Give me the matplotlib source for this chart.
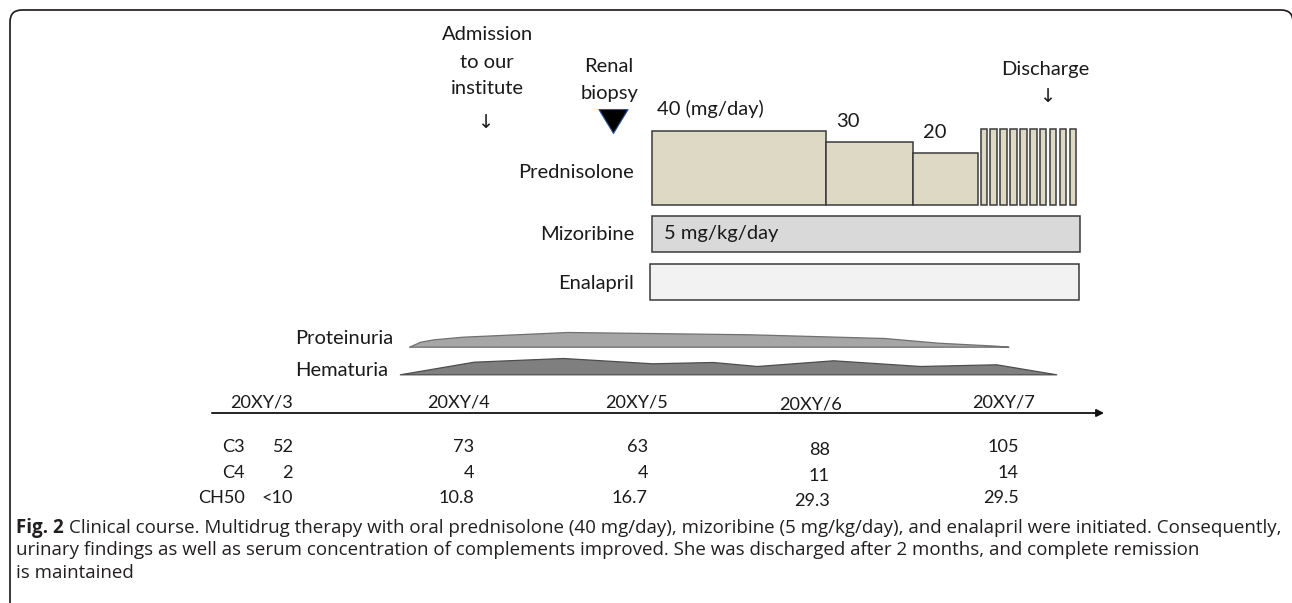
import matplotlib
matplotlib.use("Agg")
import matplotlib.pyplot as plt
from matplotlib.patches import FancyBboxPatch
from matplotlib.path import Path

# ---------------- data ----------------
admission_week = -3.83          # weeks relative to start of therapy
biopsy_week = -0.90
discharge_week = 9.09

pred_doses = [40, 30, 20]        # mg/day
pred_weeks = [4.0, 2.0, 1.5]     # duration of each step
pred_labels = ["40 (mg/day)", "30", "20"]
taper_start_week = 7.56
taper_bar_count = 10

drug_names = ["Mizoribine", "Enalapril"]
drug_start_weeks = [0.0, -0.04]
drug_end_weeks = [9.85, 9.82]
mizoribine_note = "5 mg/kg/day"

prot_weeks = [-5.58, -5.32, -5.01, -4.35, -1.94, 2.27, 5.35, 6.58, 7.92, 8.2]
prot_level = [0.0, 5.0, 7.4, 10.0, 14.7, 12.4, 8.7, 4.0, 1.0, 0.0]
hema_weeks = [-5.79, -4.09, -2.04, 0.01, 1.40, 2.42, 4.17, 6.17, 7.92, 9.30]
hema_level = [0.0, 12.6, 16.3, 11.0, 12.3, 8.3, 14.0, 8.3, 10.0, 0.0]

timeline_start_week = -10.11
timeline_end_week = 10.40
month_labels = ["20XY/3", "20XY/4", "20XY/5", "20XY/6", "20XY/7"]
month_weeks = [-8.96, -4.45, -0.34, 3.66, 8.08]

lab_names = ["C3", "C4", "CH50"]
c3_values = ["52", "73", "63", "88", "105"]
c4_values = ["2", "4", "4", "11", "14"]
ch50_values = ["<10", "10.8", "16.7", "29.3", "29.5"]

caption_bold = "Fig. 2"
caption_lines = [
    "Clinical course. Multidrug therapy with oral prednisolone (40 mg/day), mizoribine (5 mg/kg/day), and enalapril were initiated. Consequently,",
    "urinary findings as well as serum concentration of complements improved. She was discharged after 2 months, and complete remission",
    "is maintained",
]

# ---------------- layout ----------------
W, H = 1292, 603
X0_PX, PX_PER_WEEK = 651.7, 43.5
XLIM = (-X0_PX / PX_PER_WEEK, (W - X0_PX) / PX_PER_WEEK)
CHART_FONT = ["Lato", "DejaVu Sans"]
CAP_FONT = ["Open Sans", "DejaVu Sans"]
TXT = "#1a1a1a"

fig = plt.figure(figsize=(W / 100, H / 100), dpi=100)
renderer = fig.canvas.get_renderer()


def frac_rect(y_top, y_bot):
    return [0, 1 - y_bot / H, 1, (y_bot - y_top) / H]


def width_px(s, family, size, weight="normal"):
    t = fig.text(0, 0, s, fontsize=size, family=family, weight=weight)
    w = t.get_window_extent(renderer).width
    t.remove()
    return w


fs = 10 * 116 / width_px("Prednisolone", CHART_FONT, 10)
nfs = fs * 0.9   # dates and complement table (narrower digits in the reference)
space10 = width_px("a a", CAP_FONT, 10) - width_px("aa", CAP_FONT, 10)
w10 = width_px(caption_bold, CAP_FONT, 10, "bold") + space10 + width_px(caption_lines[0], CAP_FONT, 10)
cfs = 10 * 1264 / w10

# pixel axes for frame, labels, caption
ax_px = fig.add_axes([0, 0, 1, 1])
ax_px.set_xlim(0, W)
ax_px.set_ylim(H, 0)
ax_px.axis("off")

# week axes (x in weeks, y in pixels)
ax_t = fig.add_axes([0, 0, 1, 1])
ax_t.set_xlim(*XLIM)
ax_t.set_ylim(H, 0)
ax_t.axis("off")

frame = FancyBboxPatch((10, 10), 1283, 640, boxstyle="round,pad=0,rounding_size=12",
                       fill=False, ec="#231f20", lw=1.25)
ax_px.add_patch(frame)

# annotations at the top
for s, y in zip(["Admission", "to our", "institute"], [35, 63, 89]):
    ax_t.text(admission_week + 0.05, y, s, ha="center", va="center", fontsize=fs, family=CHART_FONT, color=TXT)
ax_t.text(admission_week, 123, "\u2193", ha="center", va="center", fontsize=fs * 0.95,
          family=["DejaVu Sans"], color=TXT)
for s, y in zip(["Renal", "biopsy"], [66, 93]):
    ax_t.text(biopsy_week - 0.08, y, s, ha="center", va="center", fontsize=fs, family=CHART_FONT, color=TXT)
tri = Path([(-1, 0.82), (1, 0.82), (0, -0.82), (-1, 0.82)],
           [Path.MOVETO, Path.LINETO, Path.LINETO, Path.CLOSEPOLY])
ax_t.plot([biopsy_week], [121], marker=tri, markersize=21, color="black",
          markeredgecolor="#2f5597", markeredgewidth=0.8, linestyle="none")
ax_t.text(discharge_week - 0.05, 70, "Discharge", ha="center", va="center", fontsize=fs, family=CHART_FONT, color=TXT)
ax_t.text(discharge_week, 97, "\u2193", ha="center", va="center", fontsize=fs * 0.95,
          family=["DejaVu Sans"], color=TXT)

# prednisolone
ax_p = fig.add_axes(frac_rect(129.3, 205.3))
ax_p.set_xlim(*XLIM)
ylo, yhi = -27.3, 41.5
ax_p.set_ylim(ylo, yhi)
ax_p.axis("off")
starts = [sum(pred_weeks[:i]) for i in range(len(pred_weeks))]
bars = ax_p.bar(starts, [d - ylo for d in pred_doses], bottom=ylo, width=pred_weeks, align="edge",
                color="#ddd9c4", edgecolor="#3a3a3a", linewidth=1.1)
for b in bars:
    b.set_clip_on(False)
pitch = 9.9 / PX_PER_WEEK
tw = 6.5 / PX_PER_WEEK
tb = ax_p.bar([taper_start_week + i * pitch for i in range(taper_bar_count)], yhi - ylo, bottom=ylo,
              width=tw, align="edge", color="#ddd9c4", edgecolor="#3a3a3a", linewidth=1.1)
for b in tb:
    b.set_clip_on(False)
for s, x0, d, dx in zip(pred_labels, starts, pred_doses, [0.12, 0.25, 0.23]):
    ax_p.annotate(s, (x0 + dx, d), xytext=(0, 9), textcoords="offset points",
                  ha="left", va="bottom", fontsize=fs, family=CHART_FONT, color=TXT, annotation_clip=False)
ax_px.text(634, 173, "Prednisolone", ha="right", va="center", fontsize=fs, family=CHART_FONT, color=TXT)

# mizoribine / enalapril
ax_d = fig.add_axes(frac_rect(210, 306))
ax_d.set_xlim(*XLIM)
ax_d.set_ylim(1.5, -0.5)
ax_d.axis("off")
dbars = ax_d.barh(range(len(drug_names)), [e - s for s, e in zip(drug_start_weeks, drug_end_weeks)],
                  left=drug_start_weeks, height=0.75, color=["#d9d9d9", "#f2f2f2"],
                  edgecolor="#3a3a3a", linewidth=1.1)
for i, name in enumerate(drug_names):
    ax_px.text(634, [234, 283][i], name, ha="right", va="center", fontsize=fs, family=CHART_FONT, color=TXT)
ax_d.text(drug_start_weeks[0] + 0.28, 0, mizoribine_note, ha="left", va="center",
          fontsize=fs, family=CHART_FONT, color=TXT)

# urinary findings
prot_base, hema_base = 346.7, 374.3
ax_t.fill_between(prot_weeks, prot_base, [prot_base - v for v in prot_level],
                  facecolor="#a6a6a6", edgecolor="#707070", linewidth=0.9)
ax_t.fill_between(hema_weeks, hema_base, [hema_base - v for v in hema_level],
                  facecolor="#7f7f7f", edgecolor="#4d4d4d", linewidth=0.9)
ax_px.text(393, 338, "Proteinuria", ha="right", va="center", fontsize=fs, family=CHART_FONT, color=TXT)
ax_px.text(388, 370, "Hematuria", ha="right", va="center", fontsize=fs, family=CHART_FONT, color=TXT)

# time axis
ax_t.annotate("", xy=(timeline_end_week, 413), xytext=(timeline_start_week, 413),
              arrowprops=dict(arrowstyle="-|>", lw=1.3, color="#111111", mutation_scale=11,
                              shrinkA=0, shrinkB=0))
for lab, w, dy in zip(month_labels, month_weeks, [0, 0, 0, 2, 0]):
    ax_t.text(w, 403 + dy, lab, ha="center", va="center", fontsize=nfs, family=CHART_FONT, color=TXT)

# complement table
row_y = [447, 473, 498]
col_x = [293, 474, 648, 830, 1019]
col_dy = [0, 0, 0, 3, 0]
for name, vals, y in zip(lab_names, [c3_values, c4_values, ch50_values], row_y):
    ax_px.text(245, y, name, ha="right", va="center", fontsize=nfs, family=CHART_FONT, color=TXT)
    for v, x, dy in zip(vals, col_x, col_dy):
        ax_px.text(x, y + dy, v, ha="right", va="center", fontsize=nfs, family=CHART_FONT, color=TXT)

# caption
CAP = "#231f20"
tb_ = ax_px.text(16, 528, caption_bold, ha="left", va="center", fontsize=cfs, family=CAP_FONT,
                 weight="bold", color=CAP)
bb = tb_.get_window_extent(renderer)
x_rest = bb.x1 + space10 * cfs / 10
ax_px.text(x_rest, 528, caption_lines[0], ha="left", va="center", fontsize=cfs, family=CAP_FONT, color=CAP)
ax_px.text(16, 550, caption_lines[1], ha="left", va="center", fontsize=cfs, family=CAP_FONT, color=CAP)
ax_px.text(16, 573, caption_lines[2], ha="left", va="center", fontsize=cfs, family=CAP_FONT, color=CAP)

fig.savefig("out.png", dpi=100)
